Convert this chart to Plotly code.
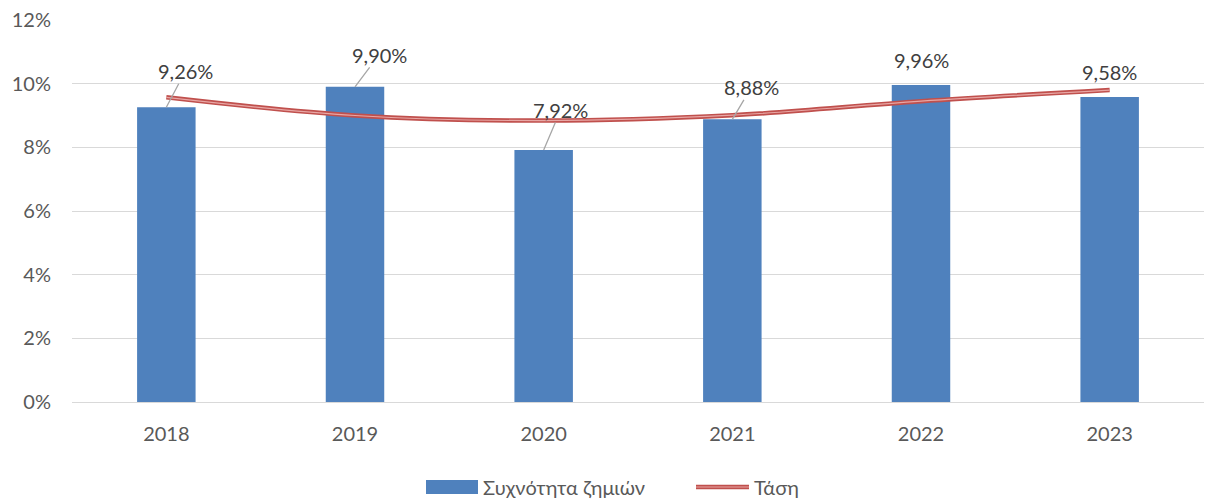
import plotly.graph_objects as go

years = ["2018", "2019", "2020", "2021", "2022", "2023"]
loss_freq = [9.26, 9.90, 7.92, 8.88, 9.96, 9.58]          # %
trend = [9.57, 9.00, 8.84, 9.01, 9.45, 9.80]
y_ticks = [0, 2, 4, 6, 8, 10, 12]
y_tick_labels = ["0%", "2%", "4%", "6%", "8%", "10%", "12%"]
bar_name = "Συχνότητα ζημιών"
trend_name = "Τάση"

# label offsets (pixels) relative to bar top and whether a leader line is shown
label_dx = [19, 24, 17, 19, 0, 0]
label_dy = [-36, -32, -40, -32, -25, -25]
leader = [True, True, True, True, False, False]

FONT = "Lato"
TXT = "#595959"
BLUE = "#4F81BD"
RED = "#C0504D"
PINK = "#E8A7A5"
W, H = 1205, 500
ML, MR, MT, MB = 72, 1, 20, 98
PW, PH = W - ML - MR, H - MT - MB


def px2paper(px, py):
    return (px - ML) / PW, (H - MB - py) / PH


xpos = list(range(len(years)))

fig = go.Figure()
fig.add_trace(go.Bar(
    x=xpos, y=loss_freq, name=bar_name,
    marker=dict(color=BLUE, line=dict(width=0)),
    width=0.31, showlegend=False,
))
fig.add_trace(go.Scatter(
    x=xpos, y=trend, name=trend_name, mode="lines", showlegend=False,
    line=dict(color=RED, width=4.5, shape="spline", smoothing=1.0),
))
fig.add_trace(go.Scatter(
    x=xpos, y=trend, name=trend_name, mode="lines", showlegend=False,
    line=dict(color=PINK, width=1.2, shape="spline", smoothing=1.0),
    hoverinfo="skip",
))

for xi, v, dx, dy, ld in zip(xpos, loss_freq, label_dx, label_dy, leader):
    fig.add_annotation(
        x=xi, y=v, xref="x", yref="y",
        text=f"{v:.2f}%".replace(".", ","),
        showarrow=True, arrowhead=0, arrowwidth=1.3,
        arrowcolor="#A6A6A6" if ld else "rgba(0,0,0,0)",
        ax=dx, ay=dy, standoff=0, startstandoff=0,
        font=dict(family=FONT, size=20, color="#404040"),
        borderpad=0,
    )

# custom legend (matching the reference's wide swatches)
x0, y0 = px2paper(426, 480)
x1, y1 = px2paper(478, 494)
fig.add_shape(type="rect", xref="paper", yref="paper", x0=x0, x1=x1, y0=y1, y1=y0,
              fillcolor=BLUE, line=dict(width=0))
tx, ty = px2paper(481, 487)
fig.add_annotation(xref="paper", yref="paper", x=tx, y=ty, text=bar_name,
                   showarrow=False, xanchor="left", yanchor="middle",
                   font=dict(family=FONT, size=20, color=TXT))
lx0, ly = px2paper(696, 487)
lx1, _ = px2paper(749, 487)
fig.add_shape(type="line", xref="paper", yref="paper", x0=lx0, x1=lx1, y0=ly, y1=ly,
              line=dict(color=RED, width=4.5))
fig.add_shape(type="line", xref="paper", yref="paper", x0=lx0, x1=lx1, y0=ly, y1=ly,
              line=dict(color=PINK, width=1.2))
tx2, _ = px2paper(752, 487)
fig.add_annotation(xref="paper", yref="paper", x=tx2, y=ty, text=trend_name,
                   showarrow=False, xanchor="left", yanchor="middle",
                   font=dict(family=FONT, size=20, color=TXT))

fig.update_layout(
    width=W, height=H,
    margin=dict(l=ML, r=MR, t=MT, b=MB),
    paper_bgcolor="white", plot_bgcolor="white",
    font=dict(family=FONT, size=20, color=TXT),
    showlegend=False,
    xaxis=dict(range=[-0.5, len(years) - 0.5], tickvals=xpos, ticktext=years,
               showgrid=False, zeroline=False, showline=True, linecolor="#D9D9D9",
               linewidth=1, ticks="", ticklabelstandoff=14, automargin=False,
               tickfont=dict(size=20, color=TXT)),
    yaxis=dict(range=[0, 12], tickvals=y_ticks, ticktext=y_tick_labels,
               showgrid=True, gridcolor="#D9D9D9", gridwidth=1,
               zeroline=False, showline=False, ticks="", automargin=False,
               ticklabelstandoff=20, tickfont=dict(size=20, color=TXT)),
)

fig.write_html(
    "out.html",
    config={"displayModeBar": False},
    post_script="document.body.style.margin='0';document.body.style.overflow='hidden';",
)
